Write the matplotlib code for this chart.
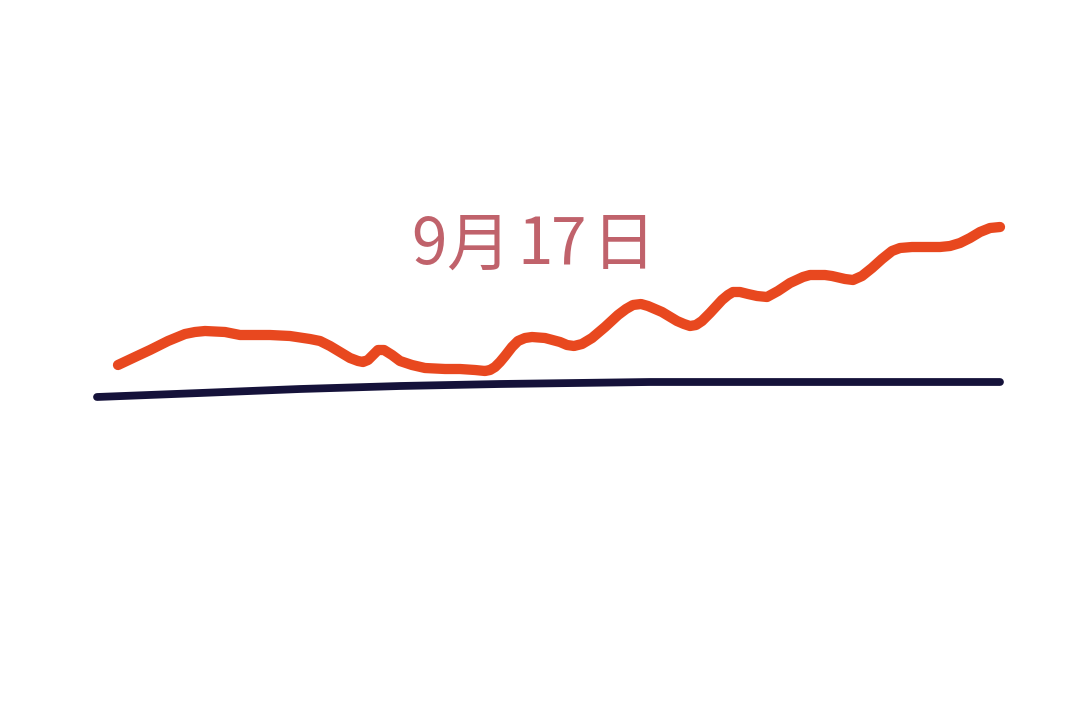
import matplotlib.pyplot as plt

plt.rcParams['font.family'] = ['Noto Sans CJK SC', 'DejaVu Sans']

# hand drawn curves, positions (pixels, y down)
trend_x = [118, 135, 150, 168, 185, 195, 205, 225, 240, 255, 270, 290, 310, 320,
           330, 340, 350, 358, 363, 368, 373, 378, 384, 392, 400, 412, 425, 445,
           460, 475, 485, 490, 495, 500, 505, 512, 518, 525, 532, 545, 560, 567,
           574, 582, 592, 605, 618, 626, 633, 641, 648, 662, 677, 684, 690, 696,
           702, 710, 722, 728, 733, 740, 748, 757, 767, 778, 790, 803, 810, 817,
           825, 832, 845, 853, 862, 872, 882, 892, 900, 912, 925, 940, 950, 960,
           970, 980, 990, 1000]
trend_y = [365, 357, 350, 341, 334, 332, 331, 332, 335, 335, 335, 336, 339, 341,
           346, 352, 358, 361, 362, 360, 355, 350, 350, 355, 361, 365, 368, 369,
           369, 370, 371, 370, 367, 362, 356, 347, 341, 338, 337, 338, 342, 345,
           346, 344, 338, 327, 315, 309, 305, 304, 306, 312, 321, 324, 326, 325,
           321, 313, 300, 295, 292, 292, 294, 296, 297, 291, 283, 277, 275, 275,
           275, 276, 279, 280, 276, 268, 259, 251, 248, 247, 247, 247, 246, 243,
           238, 232, 228, 227]

base_x = [97, 200, 300, 400, 500, 650, 800, 1000]
base_y = [397, 393, 389, 386, 384, 382, 382, 382]

label_chars = ["9", "月", "1", "7", "日"]
label_pos = [429, 478, 535, 569, 624]

fig = plt.figure(figsize=(10.8, 7.26), dpi=100)
ax = fig.add_axes([0, 0, 1, 1])
ax.set_xlim(0, 1080)
ax.set_ylim(726, 0)
ax.axis('off')

ax.plot(base_x, base_y, color='#15123a', lw=5.6, solid_capstyle='round',
        solid_joinstyle='round')
ax.plot(trend_x, trend_y, color='#e8481f', lw=7.4, solid_capstyle='round',
        solid_joinstyle='round')

# spaced out a bit like the original lettering
for ch, x in zip(label_chars, label_pos):
    ax.text(x, 246, ch, color='#c0626b', fontsize=46, fontweight='light',
            ha='center', va='center')

fig.savefig('out.png', dpi=100, facecolor='white')
